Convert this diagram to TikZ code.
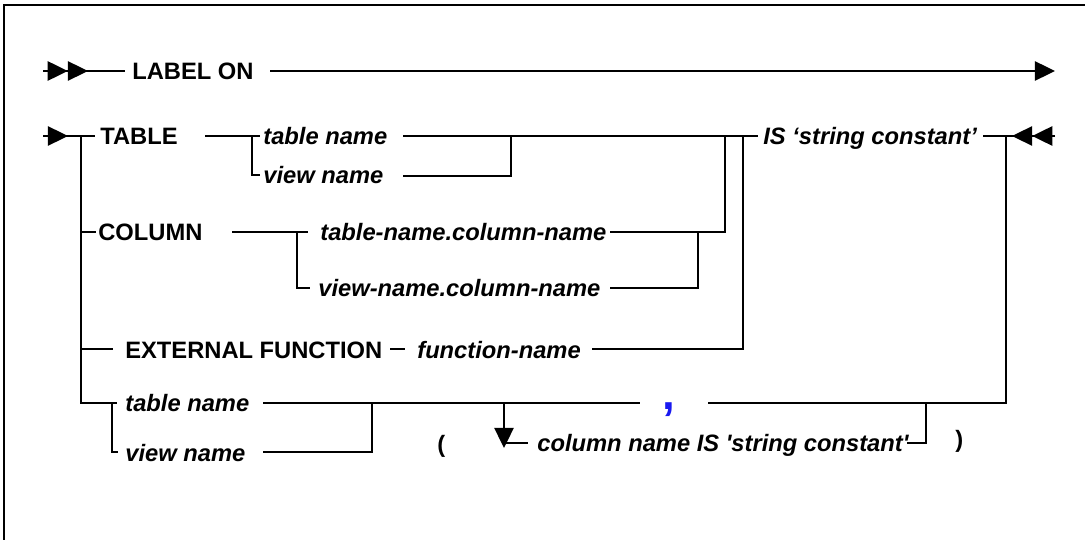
\documentclass[tikz,border=0pt]{standalone}
\usepackage{fontspec}
\setmainfont{Liberation Sans}
\usetikzlibrary{arrows.meta}
\definecolor{commablue}{RGB}{25,25,240}

\begin{document}
\begin{tikzpicture}[
  x=0.02cm, y=-0.02cm,
  kw/.style={anchor=base west, inner sep=0pt,
             font=\fontsize{13.5}{16}\selectfont\bfseries},
  var/.style={anchor=base west, inner sep=0pt,
              font=\fontsize{13.5}{16}\selectfont\bfseries\itshape},
  rail/.style={line width=1.1pt},
  trunk/.style={line width=1.7pt},
  tip/.style={-{Triangle[length=11.5pt,width=11pt]}},
  dtip/.style={-{Triangle[length=11.5pt,width=11pt,sep=0pt]
                 Triangle[length=11.5pt,width=11pt,sep=0pt]}}
]
\useasboundingbox (0,0) rectangle (1085,540);
% frame (only top and left edge show)
\draw[rail] (1085,5) -| (4,540);

% texts
\node[kw]  (lblon)   at (132,80)  {LABEL ON};
\node[kw]  (tbl)     at (100,145) {TABLE};
\node[var] (tname)   at (263,145) {table name};
\node[var] (vname)   at (263,184) {view name};
\node[var] (isconst) at (763,145) {IS `string constant'};
\node[kw]  (col)     at (98,241)  {COLUMN};
\node[var] (tcol)    at (320,241) {table-name.column-name};
\node[var] (vcol)    at (318,297) {view-name.column-name};
\node[kw]  (ext)     at (125,358) {EXTERNAL FUNCTION};
\node[var] (fname)   at (417,358) {function-name};
\node[var] (tname2)  at (125,412) {table name};
\node[var] (vname2)  at (125,461) {view name};
\node[kw]  (lpar)    at (437,452) {(};
\node[var] (colis)   at (537,451)
  {column name IS \textquotesingle string constant\textquotesingle};
\node[kw]  (rpar)    at (955,447) {)};
\node[kw, font=\fontsize{26}{28}\selectfont\bfseries, text=commablue]
  (comma) at (662,409) {,};

% rail points
\coordinate (in1)  at (43,71);
\coordinate (in1t) at (88,71);
\coordinate (in2)  at (43,136);
\coordinate (in2t) at (68,136);
\coordinate (top)  at (81,136);
\coordinate (bot)  at (81,403);
\coordinate (ret)  at (1006,136);
\coordinate (out)  at (1055,136);
\coordinate (loop) at (504,403);

% statement start and first line
\draw[rail] (in1) -- (125,71);
\draw[rail, dtip] (in1) -- (in1t);
\draw[rail, tip] (270,71) -- (1055,71);

% second line: entry and trunk
\draw[rail] (in2) -- (95,136);
\draw[rail, tip] (in2) -- (in2t);
\draw[trunk] (top) -- (bot) -- (117,403);
\foreach \y/\x in {232/96, 349/113}
  \draw[rail] (81,\y) -- (\x,\y);

% TABLE branch
\draw[rail] (205,136) -- (260,136);
\draw[rail] (252,136) |- (260,175);
\draw[rail] (403,136) -- (758,136);
\draw[rail] (403,176) -| (511,136);

% COLUMN branch
\draw[rail] (232,232) -- (308,232);
\draw[rail] (297,232) |- (310,288);
\draw[rail] (610,232) -| (725,136);
\draw[rail] (610,288) -| (698,232);

% EXTERNAL FUNCTION branch
\draw[rail] (390,349) -- (405,349);
\draw[rail] (592,349) -| (743,136);

% end of statement
\draw[rail] (983,136) -- (out);
\draw[rail, dtip] (out) -- (1012,136);
\draw[rail] (ret) -- (1006,403) -- (708,403);

% table/view name with column list
\draw[rail] (112,403) |- (118,452);
\draw[rail] (263,403) -- (640,403);
\draw[rail] (263,452) -| (372,403);
\draw[rail, tip] (loop) -- (504,448);
\draw[rail] (504,443) -- (528,443);
\draw[rail] (907,443) -| (926,403);
\end{tikzpicture}
\end{document}
